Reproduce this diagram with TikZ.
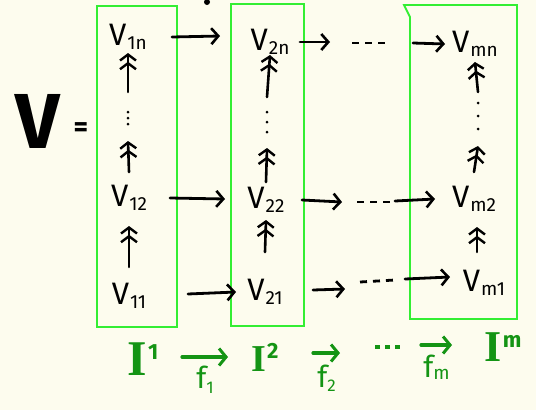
\documentclass[tikz,border=0pt]{standalone}
\usepackage{fontspec}
\setmainfont{Fira Sans}
\newfontfamily\serifI{Liberation Serif}
\usetikzlibrary{arrows.meta,calc}
\definecolor{bg}{HTML}{FDFCEE}
\definecolor{boxg}{HTML}{33EE33}
\definecolor{txtg}{HTML}{149414}
\tikzset{
 vn/.style={inner sep=0pt, font=\fontsize{31}{33}\selectfont},
 harrow/.style={line width=2.8pt, line cap=round, -{Straight Barb[length=7pt,width=16pt,line width=2.6pt]}},
 varrow/.style={line width=2.6pt, line cap=round, -{Straight Barb[length=6pt,width=16pt,line width=2.4pt]Straight Barb[length=6pt,width=16pt,line width=2.4pt]}},
 gbox/.style={draw=boxg, line width=1.8pt},
 dashseg/.style={line width=2.8pt, dash pattern=on 7pt off 6pt},
 gtext/.style={text=txtg, inner sep=0pt},
 flab/.style={gtext, font=\fontsize{30}{30}\selectfont},
 garrow/.style={draw=txtg, line width=3.2pt, line cap=round, -{Straight Barb[length=7pt,width=17pt,line width=3pt]}},
 gdash/.style={draw=txtg, line width=3.2pt, dash pattern=on 5pt off 5pt},
}
\newcommand{\Vs}[1]{V\kern1pt\raisebox{-4pt}{\fontsize{19}{19}\selectfont #1}}
\newcommand{\BigI}[3]{{\serifI\bfseries\fontsize{#1}{#1}\selectfont I}\kern1pt\raisebox{#2}{\fontsize{22}{22}\selectfont\bfseries #3}}
\begin{document}
\begin{tikzpicture}[x=1pt,y=-1pt]
\fill[bg] (0,0) rectangle (536,410);
\useasboundingbox (0,0) rectangle (536,410);
% boxes
\draw[gbox] (97,6) rectangle (177,327);
\draw[gbox] (231,4) rectangle (304,326);
\draw[gbox] (410,319) -- (410,17) -- (404,5) -- (517,5) -- (517,319) -- cycle;
\fill (207,2) circle (3pt);
% big V
\node[inner sep=0pt, font=\fontsize{78}{78}\selectfont\bfseries] (bigv) at (38,121) {V};
\node[inner sep=0pt, font=\fontsize{28}{28}\selectfont\bfseries] (eq) at (81,130) {=};
% column 1
\node[vn] (v1n) at (128,37) {\Vs{1n}};
\node[vn] (v12) at (129,198) {\Vs{12}};
\node[vn] (v11) at (129,296) {\Vs{11}};
\coordinate (d1) at (128,118);
% column 2
\node[vn] (v2n) at (270,42) {\Vs{2n}};
\node[vn] (v22) at (266,200) {\Vs{22}};
\node[vn] (v21) at (265,292) {\Vs{21}};
\coordinate (d2) at (267,122);
% column m
\node[vn] (vmn) at (475,44) {\Vs{mn}};
\node[vn] (vm2) at (474,199) {\Vs{m2}};
\node[vn] (vm1) at (484,283) {\Vs{m1}};
\coordinate (dm) at (478,116);
% dots
\foreach \c/\a/\b in {d1/-6/6, d2/-10/10, dm/-13/13}{
  \foreach \t in {0,0.5,1}{
    \fill ($(\c)+(0,\a)+\t*(0,\b-\a)$) circle (1.5pt);
  }
}
% vertical arrows
\draw[varrow] (v11 |- 0,267) -- (v12 |- 0,226);
\draw[varrow] (v12 |- 0,172) -- (d1 |- 0,141);
\draw[varrow] (d1 |- 0,92) -- (v1n |- 0,53);
\draw[varrow] (v21 |- 0,252) -- (v22 |- 0,220);
\draw[varrow] (v22 |- 0,182) -- (d2 |- 0,148);
\draw[varrow] (d2 |- 0,97) -- (v2n |- 0,55);
\draw[varrow] (477,252) -- (477,227);
\draw[varrow] (vm2 |- 0,172) -- (dm |- 0,146);
\draw[varrow] (dm |- 0,92) -- (vmn |- 0,62);
% horizontal arrows row n
\draw[harrow] (v1n -| 172,0) -- (220,36);
\coordinate (rna) at (330,42);
\coordinate (rnb) at (413,43);
\draw[harrow] (v2n -| 300,0) -- (rna);
\draw[dashseg] (352,43) -- (388,43);
\draw[harrow] (rnb) -- (vmn -| 445,0);
% row 2
\draw[harrow] (v12 -| 170,0) -- (225,199);
\coordinate (r2a) at (342,202);
\coordinate (r2b) at (395,201);
\draw[harrow] (v22 -| 302,0) -- (r2a);
\draw[dashseg] (357,202) -- (390,202);
\draw[harrow] (r2b) -- (vm2 -| 435,0);
% row 1
\draw[harrow] (188,294) -- (v21 -| 236,0);
\coordinate (r1a) at (345,289);
\coordinate (r1b) at (405,279);
\draw[harrow] (313,290) -- (r1a);
\draw[dashseg] (360,282) -- (395,280);
\draw[harrow] (r1b) -- (450,277);
% bottom green sequence
\node[gtext] (i1) at (143,359) {\BigI{50}{16pt}{1}};
\node[gtext] (i2) at (265,357) {\BigI{38}{13pt}{2}};
\node[gtext] (gd) at (388,347) {};
\node[gtext] (im) at (503,347) {\BigI{44}{14pt}{m}};
\draw[gdash] (375,347) -- (402,347);
\draw[garrow] (182,357) -- node[flab, below=7pt] (f1) {f\raisebox{-5pt}{\fontsize{17}{17}\selectfont 1}} (228,357);
\draw[garrow] (313,353) -- node[flab, below=10pt] (f2) {f\raisebox{-4pt}{\fontsize{17}{17}\selectfont 2}} (340,353);
\draw[garrow] (421,345) -- node[flab, below=8pt] (fm) {f\raisebox{-2pt}{\fontsize{19}{19}\selectfont m}} (452,345);
\end{tikzpicture}
\end{document}
